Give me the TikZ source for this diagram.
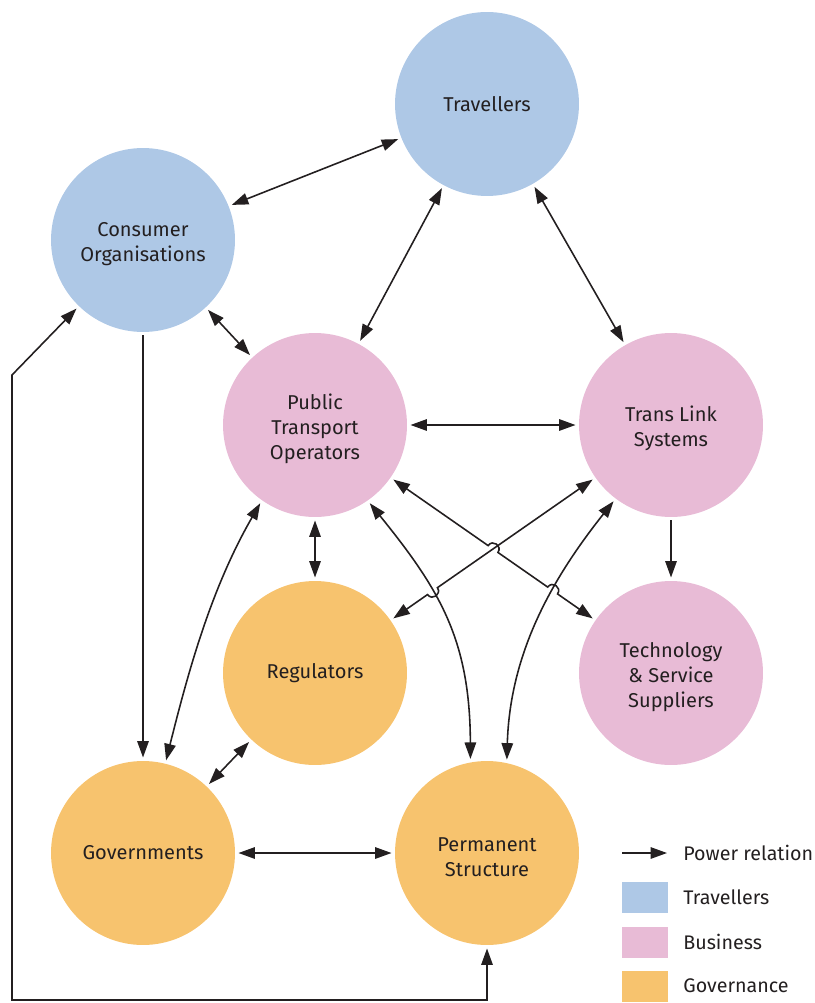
\documentclass[tikz,border=0pt]{standalone}
\usepackage{fontspec}
\setmainfont{Fira Sans}
\usetikzlibrary{arrows.meta,calc,intersections}
\definecolor{travblue}{RGB}{174,200,230}
\definecolor{buspink}{RGB}{232,187,214}
\definecolor{govorange}{RGB}{247,195,110}
\definecolor{inkgray}{RGB}{35,31,32}
\newcommand{\lift}{\rule{0pt}{2.15ex}}

\begin{document}
\begin{tikzpicture}[x=0.02cm,y=-0.02cm,
    >={Triangle[length=3.3mm,width=2.3mm]},
    actor/.style={circle,minimum size=3.68cm,inner sep=0pt,outer sep=0.07cm,
        align=center,text=inkgray,font=\fontsize{11.4}{14.2}\selectfont},
    trav/.style={actor,fill=travblue},
    bus/.style={actor,fill=buspink},
    gov/.style={actor,fill=govorange},
    pr/.style={line width=0.9pt,draw=inkgray},
    jump/.style={bend left=90,looseness=1.7},
    key/.style={minimum width=0.92cm,minimum height=0.62cm,inner sep=0pt},
    keytext/.style={anchor=west,inner sep=0pt,text=inkgray,font=\fontsize{11.2}{14.2}\selectfont}]
    \useasboundingbox (0,0) rectangle (814,1003);

    \node[trav] (travellers) at (487,104) {Travellers};
    \node[trav] (consumer) at (143,240) {\lift Consumer\\Organisations};
    \node[bus] (operators) at (315,425) {\lift Public\\Transport\\Operators};
    \node[bus] (translink) at (671,425) {\lift Trans Link\\Systems};
    \node[gov] (regulators) at (315,673) {Regulators};
    \node[bus] (suppliers) at (671,673) {\lift Technology\\\& Service\\Suppliers};
    \node[gov] (governments) at (143,853) {Governments};
    \node[gov] (permanent) at (487,853) {\lift Permanent\\Structure};

    \draw[pr,<->] (consumer) -- (travellers);
    \draw[pr,<->] (travellers) -- (operators);
    \draw[pr,<->] (travellers) -- (translink);
    \draw[pr,<->] (consumer) -- (operators);
    \draw[pr,<->] (operators) -- (translink);
    \draw[pr,<->] (operators) -- (regulators);
    \draw[pr,->] (consumer) -- (governments);
    \draw[pr,->] (translink) -- (suppliers);
    \draw[pr,<->] (regulators) -- (governments);
    \draw[pr,<->] (governments) -- (permanent);

    \draw[pr,<->] (operators.235) to[out=-120,in=76,looseness=0.9] (governments.76);
    \draw[pr,<->,name path=opperm] (operators.-55) .. controls (440,590) and (470,640) .. (permanent.100);
    \draw[pr,<->,name path=tlperm] (translink.-127) .. controls (555,575) and (510,650) .. (permanent.78);

    \path[name path=tlreg] (translink) -- (regulators);
    \path[name path=opsup] (operators) -- (suppliers);
    \path[name intersections={of=tlreg and opsup,by=j1}];
    \path[name intersections={of=opsup and tlperm,by=j2}];
    \path[name intersections={of=tlreg and opperm,by=j3}];

    \draw[pr,<->] (operators) -- ($(j1)!0.12cm!(operators)$) to[jump] ($(j1)!0.12cm!(suppliers)$)
        -- ($(j2)!0.12cm!(operators)$) to[jump] ($(j2)!0.12cm!(suppliers)$) -- (suppliers);
    \draw[pr,<->] (translink) -- ($(j3)!0.12cm!(translink)$) to[jump] ($(j3)!0.12cm!(regulators)$) -- (regulators);

    \coordinate (cornerb) at (12,1000);
    \coordinate (cornert) at (12,375);
    \draw[pr,<->] (permanent.south) |- (cornerb) -- (cornert) -- (consumer);

    \coordinate (keya) at (622,853);
    \coordinate (keyb) at (667,853);
    \draw[pr,->] (keya) -- (keyb);
    \node[keytext] (prtext) at (683,853) {Power relation};
    \node[key,fill=travblue] (keytrav) at (645,897) {};
    \node[keytext] (travtext) at (683,897) {Travellers};
    \node[key,fill=buspink] (keybus) at (645,942) {};
    \node[keytext] (bustext) at (683,942) {Business};
    \node[key,fill=govorange] (keygov) at (645,986) {};
    \node[keytext] (govtext) at (683,986) {Governance};
\end{tikzpicture}
\end{document}
